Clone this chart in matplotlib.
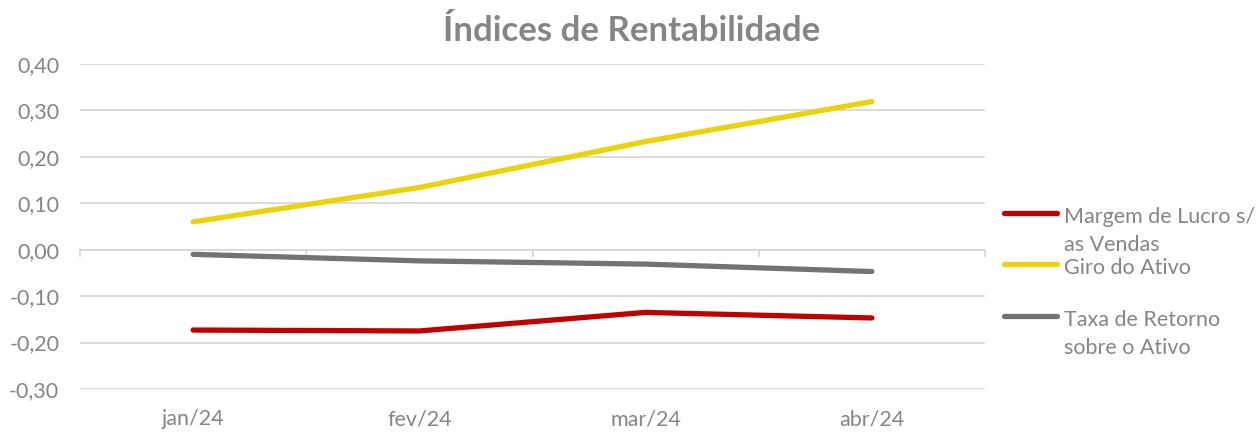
import matplotlib
matplotlib.use("Agg")
import matplotlib.pyplot as plt
from matplotlib.lines import Line2D
from matplotlib.ticker import FuncFormatter, FixedLocator
import matplotlib.transforms as mtransforms

plt.rcParams['font.family'] = ['Lato', 'DejaVu Sans']

categories = ["jan/24", "fev/24", "mar/24", "abr/24"]
margem = [-0.173, -0.175, -0.135, -0.147]
giro = [0.060, 0.134, 0.233, 0.319]
taxa = [-0.010, -0.024, -0.031, -0.047]
series_names = ["Margem de Lucro s/\nas Vendas", "Giro do Ativo", "Taxa de Retorno\nsobre o Ativo"]
yticks = [-0.3, -0.2, -0.1, 0.0, 0.1, 0.2, 0.3, 0.4]

colors = ["#C00000", "#EBD20A", "#737373"]
text_color = "#858585"
grid_color = "#D9D9D9"

W, H = 1259, 432
fig = plt.figure(figsize=(W / 100, H / 100), dpi=100)
ax = fig.add_axes([80 / W, 1 - 389 / H, (985 - 80) / W, (389 - 64) / H])

x = list(range(len(categories)))
for vals, c in zip([margem, giro, taxa], colors):
    ax.plot(x, vals, color=c, lw=3.8, solid_capstyle='round', zorder=3)

ax.set_xlim(-0.5, len(categories) - 0.5)
ax.set_ylim(-0.3, 0.4)
ax.yaxis.set_major_locator(FixedLocator(yticks))
ax.yaxis.set_major_formatter(FuncFormatter(lambda v, p: f"{v:.2f}".replace('.', ',').replace('-0,00', '0,00')))
ax.grid(axis='y', color=grid_color, lw=1.3, zorder=0)
ax.tick_params(axis='y', length=0, labelsize=15.5, labelcolor=text_color, pad=15)

for s in ['top', 'right', 'left']:
    ax.spines[s].set_visible(False)
ax.spines['bottom'].set_position(('data', 0))
ax.spines['bottom'].set_color(grid_color)
ax.spines['bottom'].set_linewidth(1.3)
ax.set_xticks([i - 0.5 for i in range(len(categories) + 1)])
ax.set_xticklabels([])
ax.tick_params(axis='x', length=5, width=1.3, color=grid_color, direction='out')

trans = mtransforms.blended_transform_factory(ax.transData, ax.transAxes)
for i, lab in enumerate(categories):
    ax.text(i, -0.093, lab, transform=trans, ha='center', va='center',
            fontsize=15.5, color=text_color)

fig.text(632 / W, 1 - 31 / H, "Índices de Rentabilidade", ha='center', va='center',
         fontsize=25, fontweight='bold', color=text_color)

# legend
leg_y = [213, 264, 316]
for name, c, yy in zip(series_names, colors, leg_y):
    fig.add_artist(Line2D([1004 / W, 1057 / W], [1 - yy / H, 1 - yy / H], color=c, lw=3.8,
                          solid_capstyle='round', transform=fig.transFigure))
    fig.text(1064 / W, 1 - (yy - 6) / H, name, ha='left', va='top', fontsize=15.5,
             color=text_color, linespacing=1.5)

fig.savefig("out.png", dpi=100, facecolor='white')
